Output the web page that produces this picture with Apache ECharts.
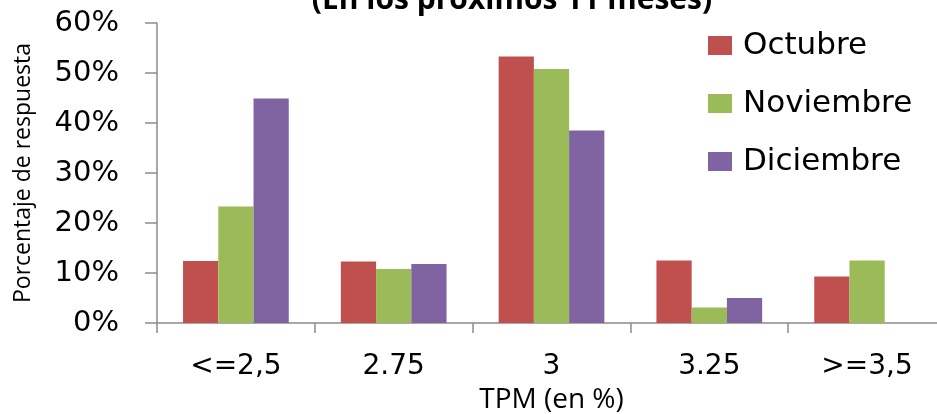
<!DOCTYPE html>
<html><head><meta charset="utf-8">
<script src="https://cdn.jsdelivr.net/npm/echarts@6/dist/echarts.min.js"></script>
<style>html,body{margin:0;padding:0;background:#fff}#c{width:937px;height:414px}</style>
</head><body><div id="c"></div>
<script>
var categories = ['<=2,5', '2.75', '3', '3.25', '>=3,5'];
var seriesNames = ['Octubre', 'Noviembre', 'Diciembre'];
var octubre = [12.4, 12.3, 53.3, 12.5, 9.3];
var noviembre = [23.3, 10.8, 50.8, 3.1, 12.5];
var diciembre = [44.9, 11.8, 38.5, 5.0, null];
var colors = ['#C0504D', '#9BBB59', '#8064A2'];
var titleText = '(En los próximos 11 meses)';

var chart = echarts.init(document.getElementById('c'));
var data = [octubre, noviembre, diciembre];
chart.setOption({
  animation: false,
  title: {
    text: titleText, left: 507, top: -20, textAlign: 'center',
    textStyle: {fontFamily: 'Open Sans', fontWeight: 'bold', fontSize: 30, color: '#000'}
  },
  legend: {
    orient: 'vertical', left: 703, top: 25, icon: 'rect',
    itemWidth: 24, itemHeight: 19, itemGap: 27,
    data: seriesNames,
    textStyle: {fontFamily: 'DejaVu Sans', fontSize: 31, color: '#000', padding: [0,0,0,6]}
  },
  grid: {left: 157, right: -9, top: 23, bottom: 91, outerBoundsMode: 'none'},
  xAxis: {
    type: 'category', data: categories,
    name: 'TPM (en %)', nameLocation: 'middle', nameGap: 61,
    nameTextStyle: {fontFamily: 'Open Sans', fontSize: 28, color: '#000'},
    axisLine: {lineStyle: {color: '#8c8c8c', width: 1.5}},
    axisTick: {show: true, length: 10, lineStyle: {color: '#8c8c8c', width: 1.5}},
    axisLabel: {fontFamily: 'DejaVu Sans', fontSize: 28, color: '#000', margin: 30}
  },
  yAxis: {
    type: 'value', min: 0, max: 60, interval: 10,
    name: 'Porcentaje de respuesta', nameLocation: 'middle', nameGap: 122, nameRotate: 90,
    nameTextStyle: {fontFamily: 'Open Sans', fontSize: 23, color: '#000'},
    axisLine: {show: true, lineStyle: {color: '#8c8c8c', width: 1.5}},
    axisTick: {show: true, length: 12, lineStyle: {color: '#8c8c8c', width: 1.5}},
    splitLine: {show: false},
    axisLabel: {fontFamily: 'DejaVu Sans', fontSize: 29, color: '#000', margin: 38, formatter: '{value}%'}
  },
  series: seriesNames.map(function (n, i) {
    return {
      name: n, type: 'bar', data: data[i], barGap: '0%', barCategoryGap: '33%',
      itemStyle: {color: colors[i]}
    };
  })
});
</script></body></html>
